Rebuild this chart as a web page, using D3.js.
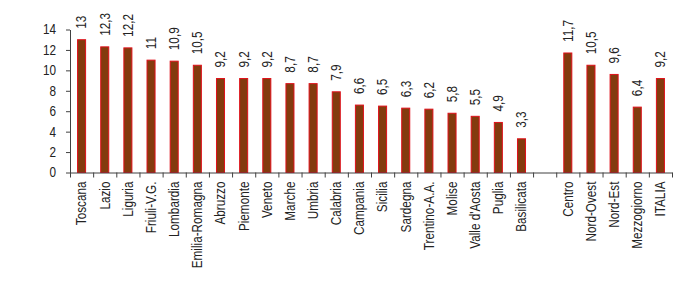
<!DOCTYPE html>
<html><head><meta charset="utf-8">
<script src="https://cdn.jsdelivr.net/npm/d3@7"></script>
<style>body{margin:0;background:#fff}svg{display:block}</style>
</head><body>
<script>
const regions = ["Toscana","Lazio","Liguria","Friuli-V.G.","Lombardia","Emilia-Romagna","Abruzzo","Piemonte","Veneto","Marche","Umbria","Calabria","Campania","Sicilia","Sardegna","Trentino-A.A.","Molise","Valle d'Aosta","Puglia","Basilicata"];
const regionValues = [13,12.3,12.2,11,10.9,10.5,9.2,9.2,9.2,8.7,8.7,7.9,6.6,6.5,6.3,6.2,5.8,5.5,4.9,3.3];
const areas = ["Centro","Nord-Ovest","Nord-Est","Mezzogiorno","ITALIA"];
const areaValues = [11.7,10.5,9.6,6.4,9.2];
const yTicks = [0,2,4,6,8,10,12,14];

(function(){
const GAP = "__gap__";
const data = regions.map((c,i)=>({c, v: regionValues[i]}))
  .concat(areas.map((c,i)=>({c, v: areaValues[i]})));
const domain = regions.concat([GAP], areas);

const W = 700, H = 300;
const mLeft = 70, mRight = 672, mTop = 29.5, mBottom = 172.5;
const font = "'Liberation Sans', Arial, sans-serif";
const squeeze = 0.84;

const svg = d3.select("body").append("svg").attr("width", W).attr("height", H);

const x = d3.scaleBand().domain(domain).range([mLeft, mRight]).paddingInner(0.61).paddingOuter(0.305);
const xb = d3.scaleLinear().domain([0, domain.length]).range([mLeft, mRight]);
const y = d3.scaleLinear().domain([0, 14]).range([mBottom, mTop]);

// bars
svg.append("g").selectAll("rect").data(data).join("rect")
  .attr("x", d => x(d.c) + 0.5)
  .attr("y", d => y(d.v))
  .attr("width", x.bandwidth() - 1)
  .attr("height", d => y(0) - y(d.v))
  .attr("fill", "#833b0e")
  .attr("stroke", "#e0101a")
  .attr("stroke-width", 1);

// y axis
const ya = svg.append("g").attr("transform", `translate(${mLeft},0)`)
  .call(d3.axisLeft(y).tickValues(yTicks).tickSize(4).tickSizeOuter(0).tickFormat(d3.format("d")));
ya.select(".domain").attr("stroke", "#404040");
ya.selectAll(".tick line").attr("stroke", "#404040");
ya.selectAll("text").attr("font-family", font).attr("font-size", 14).attr("fill", "#222")
  .attr("x", -14 / squeeze).attr("transform", `scale(${squeeze},1)`);

// x axis with boundary ticks
const xa = svg.append("g").attr("transform", `translate(0,${mBottom})`)
  .call(d3.axisBottom(xb).tickValues(d3.range(0, domain.length + 1)).tickSize(5).tickSizeOuter(0).tickFormat(""));
xa.select(".domain").attr("stroke", "#404040");
xa.selectAll(".tick line").attr("stroke", "#404040");

// category labels
svg.append("g").selectAll("text").data(data).join("text")
  .attr("transform", d => `translate(${x(d.c) + x.bandwidth()/2},${mBottom + 9}) rotate(-90) scale(${squeeze},1)`)
  .attr("text-anchor", "end").attr("dy", "0.35em")
  .attr("font-family", font).attr("font-size", 14).attr("fill", "#222")
  .text(d => d.c);

// value labels
const fmt = v => String(v).replace(".", ",");
svg.append("g").selectAll("text").data(data).join("text")
  .attr("transform", d => `translate(${x(d.c) + x.bandwidth()/2},${y(d.v) - 11}) rotate(-90) scale(${squeeze},1)`)
  .attr("text-anchor", "start").attr("dy", "0.35em")
  .attr("font-family", font).attr("font-size", 14).attr("fill", "#222")
  .text(d => fmt(d.v));
})();
</script>
</body></html>
